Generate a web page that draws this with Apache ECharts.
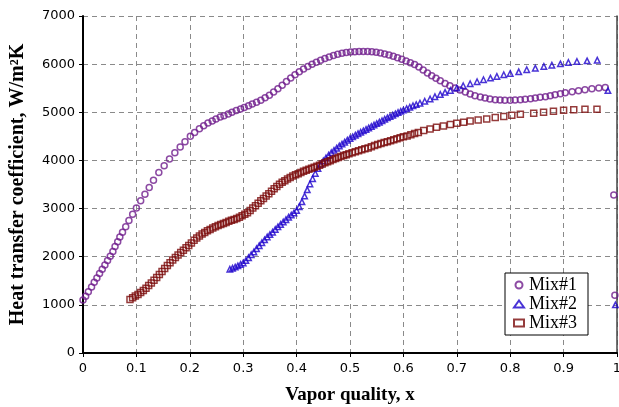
<!DOCTYPE html>
<html>
<head>
<meta charset="UTF-8">
<title>Heat transfer coefficient vs vapor quality</title>
<script src="https://fastly.jsdelivr.net/npm/echarts@6/dist/echarts.min.js"></script>
</head>
<body style="margin:0">
<div id="main" style="width:619px;height:407px;"></div>
<script>
// [vapor quality, HTC W/m2K]
var mix1 = [[0,1100],[0.005,1180],[0.01,1270],[0.016,1370],[0.021,1470],[0.026,1560],[0.031,1650],[0.036,1740],[0.041,1830],[0.046,1920],[0.051,2010],[0.056,2110],[0.060,2210],[0.065,2310],[0.069,2410],[0.074,2510],[0.080,2620],[0.086,2750],[0.093,2880],[0.100,3010],[0.108,3160],[0.116,3300],[0.124,3440],[0.132,3590],[0.142,3750],[0.152,3890],[0.162,4030],[0.172,4160],[0.182,4280],[0.191,4390],[0.201,4500],[0.209,4580],[0.218,4660],[0.226,4720],[0.234,4780],[0.242,4820],[0.249,4860],[0.257,4900],[0.264,4930],[0.272,4965],[0.279,5000],[0.287,5035],[0.295,5070],[0.302,5100],[0.310,5135],[0.317,5170],[0.325,5210],[0.333,5250],[0.341,5300],[0.349,5355],[0.357,5420],[0.365,5490],[0.373,5560],[0.381,5640],[0.389,5710],[0.397,5780],[0.405,5840],[0.413,5900],[0.421,5950],[0.429,6000],[0.437,6040],[0.445,6080],[0.453,6115],[0.461,6150],[0.469,6180],[0.477,6205],[0.485,6225],[0.493,6240],[0.501,6252],[0.509,6258],[0.517,6262],[0.525,6263],[0.533,6262],[0.541,6256],[0.549,6245],[0.557,6230],[0.565,6210],[0.573,6190],[0.581,6165],[0.589,6135],[0.597,6100],[0.605,6065],[0.613,6030],[0.621,5990],[0.629,5940],[0.637,5880],[0.645,5815],[0.653,5760],[0.661,5705],[0.669,5655],[0.678,5600],[0.687,5552],[0.697,5503],[0.706,5462],[0.716,5421],[0.725,5380],[0.734,5345],[0.744,5317],[0.753,5297],[0.762,5276],[0.772,5262],[0.781,5255],[0.790,5248],[0.800,5248],[0.809,5255],[0.819,5262],[0.828,5269],[0.838,5283],[0.847,5297],[0.856,5310],[0.866,5324],[0.875,5345],[0.884,5366],[0.894,5386],[0.903,5407],[0.916,5428],[0.928,5448],[0.940,5469],[0.953,5490],[0.966,5503],[0.978,5517],[0.994,3280],[0.996,1200]];

var mix2 = [[0.275,1740],[0.280,1760],[0.285,1785],[0.290,1810],[0.295,1840],[0.300,1870],[0.305,1920],[0.310,1980],[0.315,2040],[0.320,2100],[0.325,2165],[0.330,2230],[0.335,2290],[0.340,2350],[0.345,2410],[0.350,2460],[0.355,2510],[0.360,2565],[0.365,2620],[0.370,2670],[0.375,2720],[0.380,2770],[0.385,2820],[0.390,2865],[0.395,2910],[0.400,2960],[0.405,3040],[0.410,3140],[0.415,3260],[0.420,3390],[0.425,3510],[0.430,3620],[0.435,3730],[0.440,3830],[0.445,3920],[0.450,3990],[0.455,4050],[0.460,4110],[0.465,4160],[0.470,4210],[0.475,4255],[0.480,4300],[0.485,4340],[0.490,4380],[0.495,4420],[0.500,4455],[0.505,4490],[0.510,4525],[0.515,4555],[0.520,4585],[0.525,4615],[0.530,4645],[0.535,4675],[0.540,4705],[0.545,4735],[0.550,4765],[0.555,4795],[0.560,4825],[0.565,4855],[0.570,4885],[0.575,4912],[0.580,4940],[0.585,4968],[0.590,4995],[0.595,5020],[0.600,5045],[0.606,5075],[0.612,5105],[0.618,5135],[0.624,5160],[0.631,5190],[0.640,5230],[0.650,5276],[0.659,5325],[0.669,5372],[0.678,5415],[0.688,5455],[0.700,5503],[0.712,5552],[0.725,5593],[0.738,5634],[0.750,5676],[0.763,5710],[0.775,5745],[0.788,5779],[0.800,5807],[0.816,5841],[0.831,5883],[0.847,5917],[0.863,5952],[0.878,5979],[0.894,6007],[0.909,6034],[0.925,6055],[0.944,6069],[0.963,6083],[0.983,5450],[0.997,1000]];

var mix3 = [[0.088,1110],[0.093,1150],[0.098,1185],[0.103,1215],[0.108,1255],[0.113,1300],[0.118,1345],[0.123,1400],[0.128,1455],[0.133,1510],[0.138,1570],[0.143,1630],[0.148,1695],[0.153,1755],[0.158,1815],[0.163,1875],[0.168,1930],[0.173,1985],[0.178,2035],[0.183,2085],[0.188,2135],[0.193,2185],[0.198,2235],[0.203,2285],[0.208,2340],[0.213,2390],[0.218,2430],[0.223,2470],[0.228,2505],[0.233,2540],[0.238,2565],[0.243,2595],[0.248,2625],[0.253,2650],[0.258,2670],[0.263,2690],[0.268,2710],[0.273,2735],[0.278,2755],[0.283,2775],[0.288,2795],[0.293,2820],[0.298,2850],[0.303,2880],[0.308,2915],[0.313,2960],[0.318,3010],[0.323,3060],[0.328,3110],[0.333,3160],[0.338,3210],[0.343,3260],[0.348,3310],[0.353,3360],[0.358,3410],[0.363,3460],[0.368,3505],[0.373,3545],[0.378,3580],[0.383,3615],[0.388,3645],[0.393,3675],[0.398,3700],[0.403,3725],[0.408,3750],[0.413,3775],[0.418,3795],[0.423,3815],[0.428,3840],[0.433,3860],[0.438,3880],[0.443,3900],[0.448,3925],[0.453,3950],[0.458,3975],[0.463,3995],[0.468,4020],[0.473,4040],[0.478,4060],[0.483,4080],[0.488,4100],[0.493,4120],[0.498,4140],[0.504,4160],[0.510,4180],[0.516,4200],[0.522,4220],[0.528,4240],[0.534,4260],[0.540,4285],[0.546,4310],[0.552,4330],[0.558,4350],[0.564,4370],[0.570,4390],[0.576,4410],[0.582,4430],[0.588,4450],[0.594,4470],[0.600,4490],[0.607,4510],[0.614,4535],[0.621,4560],[0.628,4580],[0.638,4620],[0.650,4655],[0.662,4690],[0.675,4717],[0.688,4745],[0.700,4772],[0.713,4793],[0.725,4821],[0.740,4841],[0.756,4862],[0.772,4890],[0.788,4910],[0.803,4938],[0.819,4959],[0.844,4979],[0.8625,5000],[0.881,5021],[0.900,5041],[0.919,5055],[0.940,5062],[0.9625,5062]];

var seriesNames = ['Mix#1', 'Mix#2', 'Mix#3'];
var colors = ['#6f1d8c', '#1c00cc', '#7a0a0a'];

var myChart = echarts.init(document.getElementById('main'));
var serif = '"Liberation Serif", "Times New Roman", serif';
var dash = {type: [5, 4], color: '#8a8a8a', width: 1};

var option = {
    animation: false,
    backgroundColor: '#fff',
    grid: {left: 83, right: 2, top: 16, bottom: 54, outerBoundsMode: 'none', containLabel: false},
    legend: {
        data: seriesNames,
        orient: 'vertical',
        left: 505, top: 273,
        padding: [3, 11, 3, 8],
        itemGap: 1,
        itemWidth: 10, itemHeight: 7,
        borderColor: '#000', borderWidth: 1,
        backgroundColor: '#fff',
        textStyle: {fontFamily: serif, fontSize: 18, color: '#000'}
    },
    xAxis: {
        type: 'value', min: 0, max: 1, interval: 0.1,
        name: 'Vapor quality, x', nameLocation: 'middle', nameGap: 33,
        nameTextStyle: {fontFamily: serif, fontWeight: 'bold', fontSize: 19, color: '#000'},
        axisLine: {lineStyle: {color: '#000', width: 2}},
        axisTick: {show: true, length: 4, lineStyle: {color: '#000'}},
        axisLabel: {fontFamily: '"DejaVu Sans", sans-serif', fontSize: 13, color: '#000', margin: 9},
        splitLine: {show: true, lineStyle: dash}
    },
    yAxis: [{
        type: 'value', min: 0, max: 7000, interval: 1000,
        name: 'Heat transfer coefficient, W/m\u00b2K', nameLocation: 'middle', nameGap: 55,
        nameTextStyle: {fontFamily: serif, fontWeight: 'bold', fontSize: 20, color: '#000'},
        axisLine: {show: true, lineStyle: {color: '#000', width: 2}},
        axisTick: {show: true, length: 4, lineStyle: {color: '#000'}},
        axisLabel: {fontFamily: '"DejaVu Sans", sans-serif', fontSize: 13, color: '#000', margin: 8,
            formatter: function (v) { return String(v); }},
        splitLine: {show: true, lineStyle: dash}
    }, {
        type: 'value', min: 0, max: 7000, interval: 1000, position: 'right',
        axisLine: {show: true, lineStyle: {color: '#444', width: 1.5}},
        axisTick: {show: false}, axisLabel: {show: false}, splitLine: {show: false}
    }],
    series: [{
        name: seriesNames[0], type: 'scatter', data: mix1,
        symbol: 'circle', symbolSize: 6,
        itemStyle: {color: 'rgba(255,255,255,0)', borderColor: colors[0], borderWidth: 1.5}
    }, {
        name: seriesNames[1], type: 'scatter', data: mix2,
        symbol: 'triangle', symbolSize: 5.5,
        itemStyle: {color: 'rgba(255,255,255,0)', borderColor: colors[1], borderWidth: 1.5}
    }, {
        name: seriesNames[2], type: 'scatter', data: mix3,
        symbol: 'rect', symbolSize: 6,
        itemStyle: {color: 'rgba(255,255,255,0)', borderColor: colors[2], borderWidth: 1.5}
    }]
};
myChart.setOption(option);
</script>
</body>
</html>
